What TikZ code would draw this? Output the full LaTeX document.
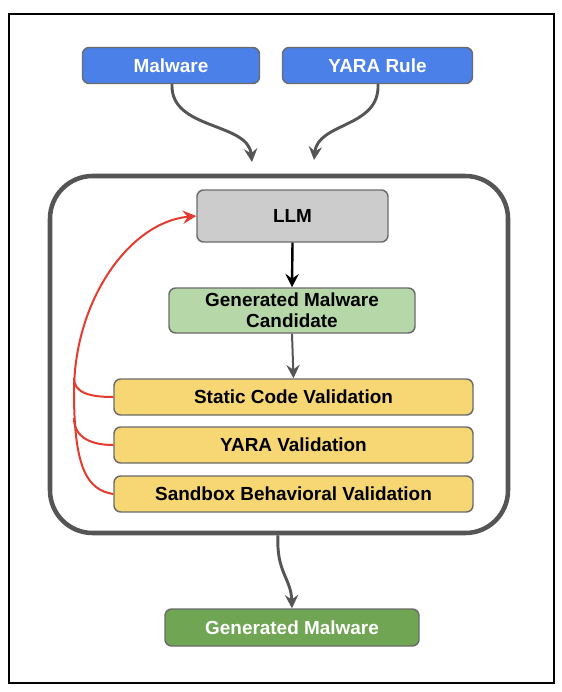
\documentclass[tikz,border=0pt]{standalone}
\usepackage{fontspec}
\setmainfont{Liberation Sans}
\usetikzlibrary{arrows.meta}

\definecolor{inblue}{HTML}{4A80E8}
\definecolor{llmgray}{HTML}{CCCCCC}
\definecolor{candgreen}{HTML}{B6D7A8}
\definecolor{valyellow}{HTML}{F6D774}
\definecolor{outgreen}{HTML}{6FA553}
\definecolor{edgegray}{HTML}{6B6B6B}
\definecolor{arrowgray}{HTML}{555555}
\definecolor{loopred}{HTML}{E53A2E}

\begin{document}
\begin{tikzpicture}[x=0.75pt,y=0.75pt,yscale=-1,xscale=1,
  box/.style={draw=edgegray,line width=1.1pt,rounded corners=5pt,align=center,
    inner sep=0pt,font=\fontsize{14.2pt}{15.8pt}\selectfont\bfseries},
  inbox/.style={box,fill=inblue,text=white,minimum height=27pt},
  valbox/.style={box,fill=valyellow,minimum width=269.25pt,minimum height=27pt},
  tip/.style={-{Stealth[length=10pt,width=10pt,inset=3.5pt]}},
  flow/.style={tip,draw=arrowgray,line width=2.2pt},
  feedback/.style={draw=loopred,line width=1.5pt}]
\useasboundingbox (0,0) rectangle (561,692);

%Shape: Frame
\draw [line width=1.1pt] (9,14) rectangle (554,683);

%Shape: Loop container
\node (loop) [draw=arrowgray,line width=3.4pt,rounded corners=32pt,
  minimum width=343.5pt,minimum height=267.75pt] at (279,354.5) {};

% Text Node
\node (mal) [inbox,minimum width=132.75pt] at (171,65.5) {Malware};
% Text Node
\node (yara) [inbox,minimum width=142.5pt] at (377.5,65.5) {YARA Rule};
% Text Node
\node (llm) [box,fill=llmgray,minimum width=143.25pt,minimum height=39pt] at (292.5,216) {LLM};
% Text Node
\node (cand) [box,fill=candgreen,minimum width=184.5pt,minimum height=33.75pt] at (292,310.5) {Generated Malware\\Candidate};
% Text Node
\node (stat) [valbox] at (293.5,397) {Static Code Validation};
% Text Node
\node (yval) [valbox] at (293.5,445) {YARA Validation};
% Text Node
\node (sand) [valbox] at (293.5,494) {Sandbox Behavioral Validation};
% Text Node
\node (gen) [box,fill=outgreen,text=white,minimum width=190.5pt,minimum height=27.75pt] at (292,627.5) {Generated Malware};

\coordinate (malin) at (252,162);
\coordinate (yarain) at (314,160);
\coordinate (trunk) at (74,392);
\coordinate (ybr) at (74,418);
\coordinate (sbr) at (74,378);

%Curve Lines
\draw [flow] (mal.south -| 172,0) .. controls (170,130) and (248,122) .. (malin);
\draw [flow] (yara.south -| 378,0) .. controls (380,128) and (318,122) .. (yarain);
\draw [flow] (loop.south -| 278,0) .. controls (276,572) and (291,578) .. (gen.north);

%Straight Lines
\draw [tip,draw=black,line width=1.8pt] (llm.south) -- (cand.north);
\draw [flow,line width=1.5pt] (cand.south) -- (stat.north);

%Curve Lines: feedback
\draw [feedback,tip] (sand.west) .. controls (88,490) and (74,470) .. (trunk)
  .. controls (74,300) and (130,222) .. (llm.west);
\draw [feedback] (yval.west) .. controls (92,445) and (74,438) .. (ybr);
\draw [feedback] (stat.west) .. controls (90,397) and (74,393) .. (sbr);

\end{tikzpicture}
\end{document}
